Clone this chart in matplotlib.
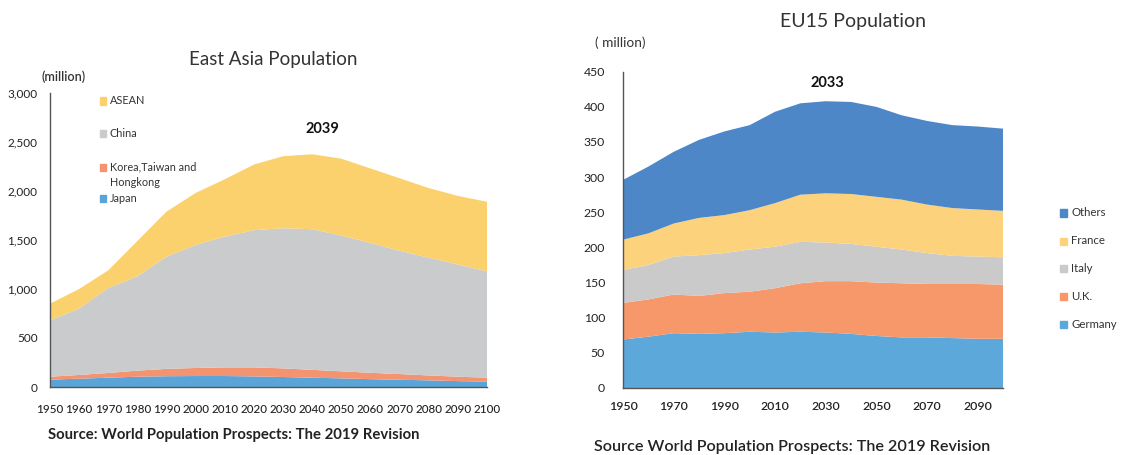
import matplotlib
matplotlib.use("Agg")
import matplotlib.pyplot as plt
from matplotlib.patches import Rectangle

plt.rcParams['font.family'] = ['Lato', 'DejaVu Sans']

# ---------------- East Asia (million) ----------------
ea_years = [1950, 1960, 1970, 1980, 1990, 2000, 2010, 2020,
            2030, 2040, 2050, 2060, 2070, 2080, 2090, 2100]
japan = [75, 85, 95, 105, 110, 112, 112, 108, 102, 95, 88, 80, 74, 68, 60, 55]
korea_tw_hk = [30, 38, 48, 62, 75, 82, 88, 92, 88, 80, 72, 65, 58, 50, 45, 40]
china = [575, 677, 867, 963, 1145, 1256, 1335, 1400, 1430, 1435, 1385, 1325,
         1258, 1202, 1145, 1085]
asean = [170, 200, 180, 360, 460, 530, 585, 670, 735, 765, 785, 760, 740,
         710, 700, 710]
ea_labels = ["Japan", "Korea,Taiwan and\nHongkong", "China", "ASEAN"]
ea_colors = ["#5AA4D8", "#F39370", "#C9CBCC", "#FBD16E"]
ea_yticks = [0, 500, 1000, 1500, 2000, 2500, 3000]
ea_xticks = list(range(1950, 2101, 10))
ea_peak = "2039"

# ---------------- EU15 (million) ----------------
eu_years = [1950, 1960, 1970, 1980, 1990, 2000, 2010, 2020,
            2030, 2040, 2050, 2060, 2070, 2080, 2090, 2100]
germany = [69, 73, 78, 77, 78, 80, 79, 80, 79, 77, 74, 72, 72, 71, 70, 70]
uk = [52, 53, 55, 54, 57, 57, 63, 69, 73, 75, 76, 77, 76, 77, 78, 77]
italy = [47, 49, 54, 58, 57, 60, 59, 59, 55, 53, 51, 48, 44, 40, 39, 39]
france = [43, 45, 47, 53, 54, 56, 62, 67, 70, 71, 71, 71, 69, 68, 67, 66]
others = [85, 95, 102, 111, 119, 121, 130, 130, 131, 131, 128, 120, 119,
          118, 118, 117]
eu_labels = ["Germany", "U.K.", "Italy", "France", "Others"]
eu_colors = ["#5DA8DA", "#F7986A", "#CACACA", "#FCD37C", "#4D87C7"]
eu_yticks = list(range(0, 451, 50))
eu_xticks = list(range(1950, 2091, 20))
eu_peak = "2033"

source = "World Population Prospects: The 2019 Revision"

W, H = 1133, 455
fig = plt.figure(figsize=(W / 100, H / 100), dpi=100)
fig.patch.set_facecolor("white")


def fx(px):
    return px / W


def fy(py):
    return 1 - py / H


def style_axes(ax):
    for s in ("top", "right"):
        ax.spines[s].set_visible(False)
    for s in ("left", "bottom"):
        ax.spines[s].set_color("#555555")
        ax.spines[s].set_linewidth(1.0)
    ax.tick_params(length=0, colors="#222222")
    ax.set_facecolor("none")


# ---------- left: East Asia ----------
ax1 = fig.add_axes([fx(50), fy(387), fx(437), 294 / H])
ax1.stackplot(ea_years, japan, korea_tw_hk, china, asean,
              colors=ea_colors, linewidth=0)
ax1.set_xlim(1950, 2100)
ax1.set_ylim(0, 3000)
ax1.set_yticks(ea_yticks)
ax1.set_yticklabels([f"{v:,}" for v in ea_yticks], fontsize=8.5)
ax1.set_xticks(ea_xticks)
ax1.set_xticklabels([str(v) for v in ea_xticks], fontsize=8.4,
                    fontweight="medium")
ax1.tick_params(axis="y", pad=9)
ax1.tick_params(axis="x", pad=12)
style_axes(ax1)

fig.text(fx(273), fy(60), "East Asia Population", ha="center", va="center",
         fontsize=13.5, color="#333333")
fig.text(fx(64), fy(77), "(million)", ha="center", va="center",
         fontsize=9, fontweight="semibold", color="#333333")
fig.text(fx(322), fy(129), ea_peak, ha="center", va="center",
         fontsize=10.5, fontweight="bold", color="#111111")
fig.text(fx(48), fy(435), "Source: " + source, ha="left", va="center",
         fontsize=10.7, fontweight="bold", color="#222222")

# legend (top to bottom: ASEAN, China, Korea..., Japan)
leg_rows = [(101, 3), (133, 2), (167, 1), (198, 0)]
for py, i in leg_rows:
    fig.patches.append(Rectangle((fx(100), fy(py) - 3.5 / H), 6 / W, 7 / H,
                                 transform=fig.transFigure,
                                 color=ea_colors[i], zorder=5))
    fig.text(fx(110), fy(py), ea_labels[i].split("\n")[0], ha="left",
             va="center", fontsize=7.8, color="#333333")
    if "\n" in ea_labels[i]:
        fig.text(fx(110), fy(py + 16), ea_labels[i].split("\n")[1],
                 ha="left", va="center", fontsize=7.8, color="#333333")

# ---------- right: EU15 ----------
ax2 = fig.add_axes([fx(623), fy(388), fx(380), 316.3 / H])
ax2.stackplot(eu_years, germany, uk, italy, france, others,
              colors=eu_colors, linewidth=0)
ax2.set_xlim(1950, 2100)
ax2.set_ylim(0, 450)
ax2.set_yticks(eu_yticks)
ax2.set_yticklabels([str(v) for v in eu_yticks], fontsize=8.8)
ax2.set_xticks(eu_xticks)
ax2.set_xticklabels([str(v) for v in eu_xticks], fontsize=8.8,
                    fontweight="semibold")
ax2.tick_params(axis="y", pad=13)
ax2.tick_params(axis="x", pad=9)
style_axes(ax2)

fig.text(fx(853), fy(22), "EU15 Population", ha="center", va="center",
         fontsize=14, color="#333333")
fig.text(fx(620), fy(43), "( million)", ha="center", va="center",
         fontsize=9.8, color="#333333")
fig.text(fx(827), fy(83), eu_peak, ha="center", va="center",
         fontsize=10.5, fontweight="bold", color="#111111")
fig.text(fx(594), fy(447), "Source " + source, ha="left", va="center",
         fontsize=11.6, fontweight="semibold", color="#222222")

eu_leg_rows = [(213, 4), (241, 3), (268, 2), (296, 1), (324, 0)]
for py, i in eu_leg_rows:
    fig.patches.append(Rectangle((fx(1060), fy(py) - 3.5 / H), 7 / W, 7 / H,
                                 transform=fig.transFigure,
                                 color=eu_colors[i], zorder=5))
    fig.text(fx(1071), fy(py), eu_labels[i], ha="left", va="center",
             fontsize=8.2, color="#333333")

fig.savefig("out.png", dpi=100, facecolor="white")
